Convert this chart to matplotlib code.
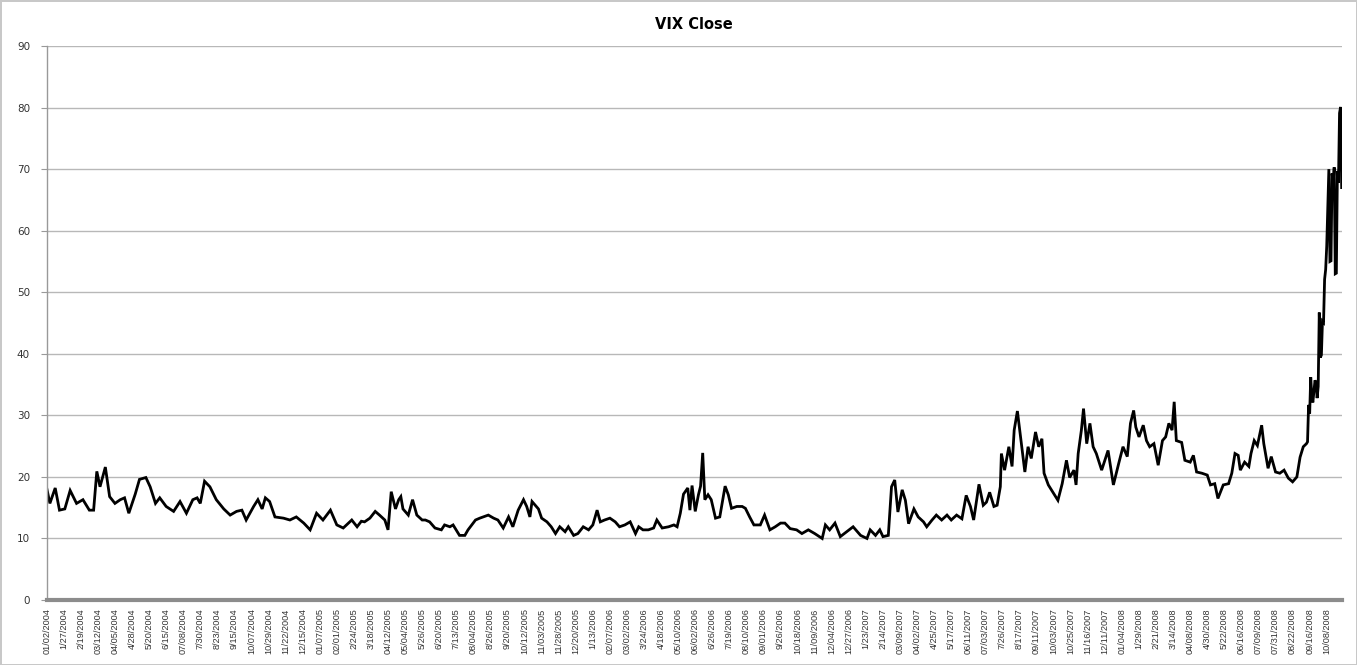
import matplotlib
matplotlib.use("Agg")
import matplotlib.pyplot as plt
import numpy as np

# category labels, one every 16 trading days
tick_labels = [
    "01/02/2004", "1/27/2004", "2/19/2004", "03/12/2004", "04/05/2004", "4/28/2004",
    "5/20/2004", "6/15/2004", "07/08/2004", "7/30/2004", "8/23/2004", "9/15/2004",
    "10/07/2004", "10/29/2004", "11/22/2004", "12/15/2004", "01/07/2005", "02/01/2005",
    "2/24/2005", "3/18/2005", "04/12/2005", "05/04/2005", "5/26/2005", "6/20/2005",
    "7/13/2005", "08/04/2005", "8/26/2005", "9/20/2005", "10/12/2005", "11/03/2005",
    "11/28/2005", "12/20/2005", "1/13/2006", "02/07/2006", "03/02/2006", "3/24/2006",
    "4/18/2006", "05/10/2006", "06/02/2006", "6/26/2006", "7/19/2006", "08/10/2006",
    "09/01/2006", "9/26/2006", "10/18/2006", "11/09/2006", "12/04/2006", "12/27/2006",
    "1/23/2007", "2/14/2007", "03/09/2007", "04/02/2007", "4/25/2007", "5/17/2007",
    "06/11/2007", "07/03/2007", "7/26/2007", "8/17/2007", "09/11/2007", "10/03/2007",
    "10/25/2007", "11/16/2007", "12/11/2007", "01/04/2008", "1/29/2008", "2/21/2008",
    "3/14/2008", "04/08/2008", "4/30/2008", "5/22/2008", "06/16/2008", "07/09/2008",
    "07/31/2008", "08/22/2008", "09/16/2008", "10/08/2008",
]
label_step = 16
n_days = 1215

# VIX close (trading-day number, value)
trading_day = [
    0, 3, 8, 12, 17, 22, 28, 34, 40, 44, 47, 50, 55, 59, 64, 69, 73, 77, 83, 87,
    93, 97, 102, 106, 112, 119, 125, 131, 137, 141, 144, 148, 153, 159, 166, 172, 178, 183, 187, 194,
    198, 202, 205, 209, 214, 222, 228, 234, 241, 247, 253, 259, 266, 272, 278, 286, 291, 295,
    298, 303, 308, 312, 317, 320, 323, 327, 330, 332, 334, 339, 343, 347, 352, 355, 359, 364,
    370, 373, 378, 381, 387, 392, 395, 402, 406, 414, 419, 423, 428, 433, 437, 442, 447, 450,
    453, 455, 458, 461, 464, 469, 473, 477, 481, 486, 489, 494, 498, 503, 508, 512, 516, 519,
    523, 528, 533, 537, 542, 547, 552, 555, 559, 564, 569, 572, 577, 583, 588, 591,
    594, 597, 601, 603, 605, 608, 611, 613, 615, 617, 620, 623, 627, 631, 636, 639, 642, 647,
    652, 655, 659, 663, 669, 673, 678, 683, 688, 692, 697, 703, 708, 714, 720, 727, 730, 734,
    739, 744, 750, 756, 763, 769, 772, 777, 781, 784, 789,
    792, 795, 798, 802, 805, 808, 813, 817, 822, 825, 830, 834, 839, 844, 848, 853, 858, 862,
    866, 869, 874, 878, 881, 884, 888, 891, 894,
    895, 898, 902, 905, 907, 910, 913, 917, 920, 923, 927, 930, 933, 935, 939, 944, 948, 952,
    956, 959, 963, 965, 967, 970, 972, 975, 978, 981, 984, 989, 992, 995, 1000, 1005, 1009, 1013,
    1016, 1019, 1021, 1024, 1028, 1031, 1034, 1038, 1042, 1046, 1049, 1052, 1055, 1057, 1059, 1064,
    1067, 1072, 1075, 1078, 1083, 1088, 1091, 1095, 1098, 1103, 1108, 1111, 1114, 1117, 1119, 1123,
    1127, 1129, 1132, 1135, 1139, 1141, 1145, 1148, 1152, 1156, 1160, 1164, 1168, 1172, 1175, 1178,
    1181, 1182, 1183, 1184, 1185, 1186, 1187, 1188, 1189, 1190, 1191, 1192, 1193, 1194, 1195, 1196,
    1197, 1198, 1199, 1200, 1201, 1202, 1203, 1204, 1205, 1206, 1207, 1208, 1209, 1210, 1211, 1212,
    1213, 1214,
]
vix_close = [
    18.2, 15.7, 18.2, 14.6, 14.8, 17.8, 15.7, 16.3, 14.6, 14.6, 20.9, 18.4, 21.6, 16.8, 15.7, 16.3, 16.6, 14.1, 17.2, 19.6,
    19.9, 18.4, 15.7, 16.6, 15.2, 14.4, 16.0, 14.1, 16.3, 16.6, 15.7, 19.3, 18.4, 16.3, 14.8, 13.8, 14.4, 14.6, 13.0, 15.2,
    16.3, 14.8, 16.6, 16.0, 13.5, 13.3, 13.0, 13.5, 12.5, 11.4, 14.1, 13.0, 14.6, 12.2, 11.7, 13.0, 11.9, 12.8,
    12.7, 13.3, 14.4, 13.8, 13.0, 11.4, 17.6, 14.8, 16.3, 16.8, 14.8, 13.8, 16.3, 13.8, 13.0, 13.0, 12.7, 11.7,
    11.4, 12.2, 11.9, 12.2, 10.5, 10.5, 11.4, 13.0, 13.3, 13.8, 13.3, 13.0, 11.7, 13.5, 11.9, 14.6, 16.3, 15.2,
    13.5, 16.0, 15.4, 14.8, 13.3, 12.7, 11.9, 10.8, 11.9, 11.1, 11.9, 10.5, 10.8, 11.9, 11.4, 12.2, 14.6, 12.7,
    13.0, 13.3, 12.7, 11.9, 12.2, 12.7, 10.8, 11.9, 11.4, 11.4, 11.7, 13.0, 11.7, 11.9, 12.2, 11.9,
    14.1, 17.2, 18.2, 14.6, 18.6, 14.4, 17.1, 18.5, 23.9, 16.3, 17.1, 16.3, 13.3, 13.5, 18.5, 17.1, 14.9, 15.2,
    15.2, 14.9, 13.5, 12.2, 12.2, 13.8, 11.4, 11.9, 12.5, 12.5, 11.6, 11.4, 10.8, 11.4, 10.8, 10.0, 12.2, 11.4,
    12.5, 10.3, 11.1, 11.9, 10.5, 10.0, 11.4, 10.5, 11.4, 10.3, 10.5,
    18.4, 19.5, 14.3, 17.9, 16.2, 12.4, 14.8, 13.5, 12.7, 11.9, 13.0, 13.8, 13.0, 13.8, 13.0, 13.8, 13.2, 17.0,
    15.2, 13.0, 18.8, 15.4, 15.9, 17.5, 15.2, 15.4, 18.4,
    23.8, 21.1, 24.9, 21.7, 27.6, 30.7, 26.5, 20.8, 24.9, 23.0, 27.3, 24.9, 26.2, 20.6, 18.7, 17.3, 16.2, 18.9,
    22.7, 19.9, 21.1, 18.7, 23.8, 27.6, 31.1, 25.4, 28.7, 24.9, 23.8, 21.1, 22.7, 24.3, 18.7, 22.2, 24.9, 23.3,
    28.7, 30.8, 28.1, 26.5, 28.4, 25.9, 24.9, 25.4, 21.9, 25.9, 26.5, 28.7, 27.6, 32.2, 25.9, 25.6,
    22.7, 22.4, 23.5, 20.8, 20.6, 20.3, 18.7, 18.9, 16.5, 18.7, 18.9, 20.6, 23.8, 23.5, 21.1, 22.4,
    21.7, 23.8, 25.9, 25.1, 28.4, 25.4, 21.4, 23.3, 20.8, 20.6, 21.1, 19.8, 19.2, 20.0, 23.2, 24.9,
    25.4, 25.7, 31.7, 30.3, 36.2, 33.1, 32.1, 33.9, 35.7, 35.2, 32.8, 34.7, 46.7, 39.4, 39.8, 45.3,
    45.1, 52.1, 53.7, 57.5, 63.9, 70.0, 55.0, 55.1, 69.3, 67.6, 70.3, 53.0, 53.1, 69.7, 67.8, 79.1,
    80.1, 67.0,
]
y_ticks = list(range(0, 91, 10))

fig = plt.figure(figsize=(13.57, 6.65), dpi=100, edgecolor="#c8c8c8", linewidth=2)
ax = fig.add_axes([0.0344, 0.0977, 0.9543, 0.8331])

ax.plot(trading_day, vix_close, color="black", lw=2.0, solid_joinstyle="miter")

ax.set_xlim(0, n_days - 1)
ax.set_ylim(0, 90)
ax.set_yticks(y_ticks)
ax.set_yticklabels([str(v) for v in y_ticks], fontsize=7.5, color="#333333")
ax.yaxis.grid(True, color="#b8b8b8", lw=1.0)
ax.set_axisbelow(True)

ax.set_xticks(np.arange(len(tick_labels)) * label_step)
ax.set_xticklabels(tick_labels, rotation=90, fontsize=6.6, family="Liberation Sans",
                   color="#333333")
ax.tick_params(axis="x", length=0, pad=6)
ax.tick_params(axis="y", length=4, color="#999999", pad=8)

for side in ["top", "right"]:
    ax.spines[side].set_visible(False)
ax.spines["left"].set_color("#999999")
ax.spines["left"].set_linewidth(1.0)
ax.spines["bottom"].set_color("#8c8c8c")
ax.spines["bottom"].set_linewidth(3.0)

ax.set_title("VIX Close", fontsize=10.5, fontweight="bold", pad=12)

fig.savefig("out.png", dpi=100, edgecolor=fig.get_edgecolor())
